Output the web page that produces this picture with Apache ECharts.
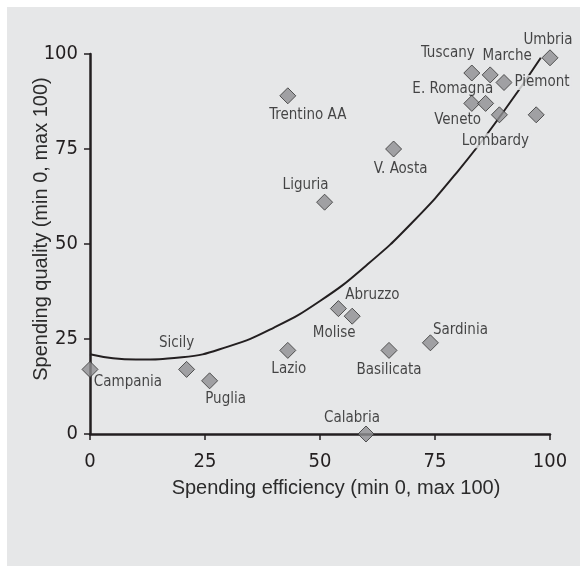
<!DOCTYPE html>
<html>
<head>
<meta charset="utf-8">
<script src="https://cdn.jsdelivr.net/npm/echarts@6/dist/echarts.min.js"></script>
<style>
  html, body { margin: 0; padding: 0; background: #fff; }
  #chart { width: 580px; height: 566px; }
</style>
</head>
<body>
<div id="chart"></div>
<script>
// regions: spending efficiency (x) vs spending quality (y)
const regions = ['Campania', 'Sicily', 'Puglia', 'Lazio', 'Abruzzo', 'Molise', 'Basilicata', 'Sardinia', 'Calabria',
  'Trentino AA', 'Liguria', 'V. Aosta', 'Tuscany', 'Marche', 'Piemont', 'E. Romagna', 'Veneto', 'Lombardy', 'Friuli VG', 'Umbria'];
const efficiency = [0, 21, 26, 43, 54, 57, 65, 74, 60, 43, 51, 66, 83, 87, 90, 83, 86, 89, 97, 100];
const quality = [17, 17, 14, 22, 33, 31, 22, 24, 0, 89, 61, 75, 95, 94.5, 92.5, 87, 87, 84, 84, 99];
// fitted trend curve
const trendX = [0, 10, 20, 30, 40, 50, 60, 70, 80, 90, 98];
const trendY = [21, 19.6, 20.2, 23, 28, 35, 44.3, 55.6, 69.2, 85, 99];

// label placement around each diamond (px from centre)
const labelOffset = {
  'Campania': [38, 13], 'Sicily': [-10, -26], 'Puglia': [16, 18], 'Lazio': [1, 19],
  'Abruzzo': [34, -13], 'Molise': [-18, 17], 'Basilicata': [0, 20], 'Sardinia': [30, -13],
  'Calabria': [-14, -16], 'Trentino AA': [20, 19], 'Liguria': [-19, -17], 'V. Aosta': [7, 20],
  'Tuscany': [-24, -20], 'Marche': [17, -19], 'Piemont': [38, 0], 'E. Romagna': [-19, -14],
  'Veneto': [-28, 17], 'Lombardy': [-4, 26], 'Umbria': [-2, -18]
};
const maskLabels = ['Lombardy', 'Piemont'];

const narrow = '"Liberation Sans Narrow", "DejaVu Sans Condensed", sans-serif';
const panel = '#e6e7e8';

const points = regions.map(function (name, i) {
  const off = labelOffset[name];
  const item = { name: name, value: [efficiency[i], quality[i]] };
  if (!off) {
    item.label = { show: false };
  } else {
    item.label = { offset: off };
    if (maskLabels.indexOf(name) >= 0) {
      item.label.backgroundColor = panel;
      item.label.padding = [0, 2];
    }
  }
  return item;
});

const chart = echarts.init(document.getElementById('chart'));
chart.setOption({
  backgroundColor: '#fff',
  animation: false,
  graphic: [{
    type: 'rect', silent: true, z: -10,
    shape: { x: 7, y: 7, width: 573, height: 559 },
    style: { fill: panel }
  }],
  grid: { left: 90, right: 30, top: 54, bottom: 132 },
  xAxis: {
    type: 'value', min: 0, max: 100, interval: 25,
    name: 'Spending efficiency (min 0, max 100)',
    nameLocation: 'middle', nameGap: 44, nameMoveOverlap: false,
    nameTextStyle: { fontFamily: 'Liberation Sans, Arial, sans-serif', fontSize: 20, color: '#2b2b2b', padding: [0, 0, 0, 32] },
    axisLine: { lineStyle: { color: '#231f20', width: 2.5 } },
    axisTick: { show: true, length: 6, lineStyle: { color: '#231f20', width: 1.5 } },
    axisLabel: { fontFamily: narrow, fontSize: 20, color: '#231f20', margin: 18 },
    splitLine: { show: false }
  },
  yAxis: {
    type: 'value', min: 0, max: 100, interval: 25,
    name: 'Spending quality (min 0, max 100)',
    nameLocation: 'middle', nameGap: 39, nameMoveOverlap: false,
    nameTextStyle: { fontFamily: 'Liberation Sans, Arial, sans-serif', fontSize: 20, color: '#2b2b2b', padding: [0, 0, 0, 30] },
    axisLine: { show: true, lineStyle: { color: '#231f20', width: 2.5 } },
    axisTick: { show: true, length: 6, lineStyle: { color: '#231f20', width: 1.5 } },
    axisLabel: { fontFamily: narrow, fontSize: 20, color: '#231f20', margin: 12 },
    splitLine: { show: false }
  },
  series: [
    {
      type: 'line',
      data: trendX.map(function (x, i) { return [x, trendY[i]]; }),
      smooth: true,
      showSymbol: false,
      silent: true,
      z: 1,
      lineStyle: { color: '#231f20', width: 2 }
    },
    {
      type: 'scatter',
      data: points,
      symbol: 'diamond',
      symbolSize: 16,
      z: 3,
      itemStyle: { color: '#8e8f91', borderColor: '#333', borderWidth: 1 },
      label: {
        show: true,
        position: 'inside',
        formatter: '{b}',
        fontFamily: narrow,
        fontSize: 15,
        color: '#1a1a1a',
        textBorderWidth: 0
      }
    }
  ]
});
</script>
</body>
</html>
